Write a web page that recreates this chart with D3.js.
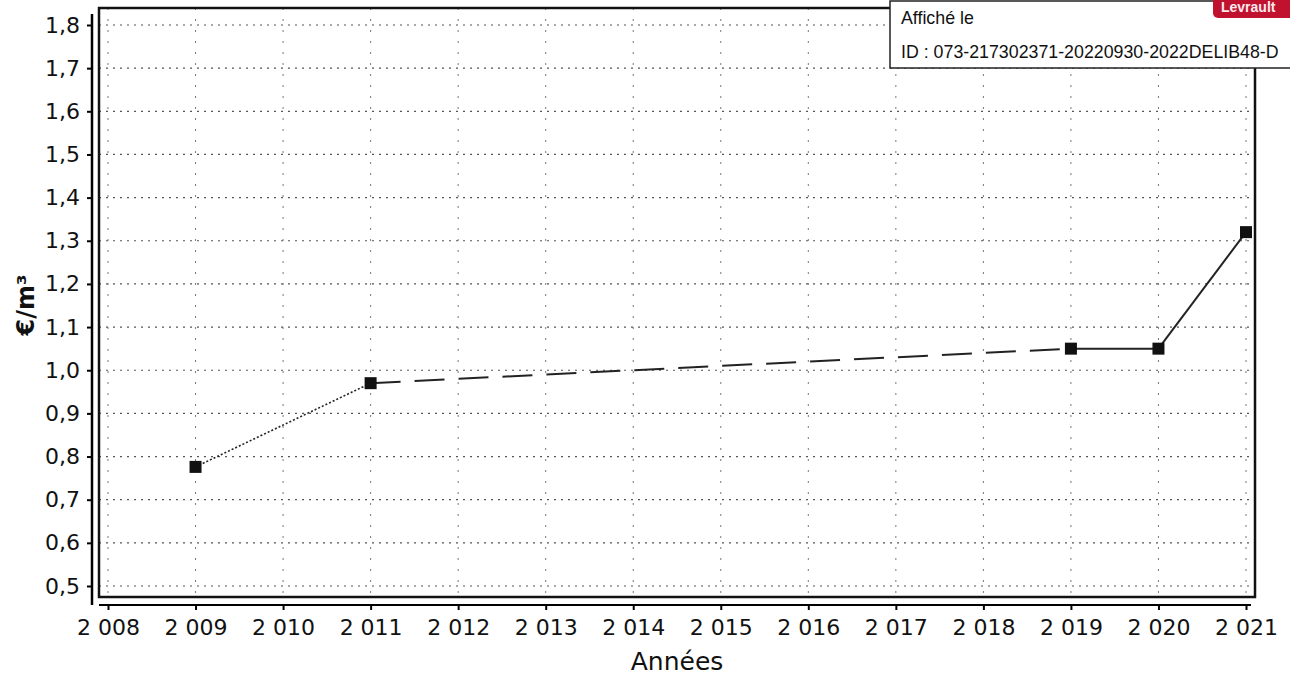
<!DOCTYPE html>
<html>
<head>
<meta charset="utf-8">
<script src="https://cdn.jsdelivr.net/npm/d3@7"></script>
<style>
  body { margin: 0; background: #ffffff; }
  svg { display: block; }
</style>
</head>
<body>
<svg id="chart"></svg>
<script>
// Data
const years = [2009, 2011, 2019, 2020, 2021];
const prices = [0.776, 0.97, 1.05, 1.05, 1.32];
// style of the segment that starts at each point
const segmentStyles = ["dotted", "dashed", "solid", "solid"];

const xTicks = d3.range(2008, 2022);
const yTicks = [0.5, 0.6, 0.7, 0.8, 0.9, 1.0, 1.1, 1.2, 1.3, 1.4, 1.5, 1.6, 1.7, 1.8];

const stampLines = ["Affiché le", "ID : 073-217302371-20220930-2022DELIB48-D"];
const stampBadge = "Levrault";

// Dimensions
const width = 1290;
const height = 677;
const font = "'DejaVu Sans', sans-serif";

const svg = d3.select("#chart")
    .attr("width", width)
    .attr("height", height)
    .style("font-family", font);

// Scales
const x = d3.scaleLinear().domain([2008, 2021]).range([108, 1246]);
const y = d3.scaleLinear().domain([0.5, 1.8]).range([586, 25]);

const frame = { left: 99, right: 1255, top: 8, bottom: 597 };

// Grid - dotted grey
const grid = svg.append("g").attr("class", "grid");
grid.selectAll(".hgrid")
    .data(yTicks)
    .join("line")
    .attr("x1", frame.left)
    .attr("x2", frame.right)
    .attr("y1", d => y(d))
    .attr("y2", d => y(d))
    .attr("stroke", "#555")
    .attr("stroke-width", 1.2)
    .attr("stroke-dasharray", "2,5");

grid.selectAll(".vgrid")
    .data(xTicks)
    .join("line")
    .attr("x1", d => x(d))
    .attr("x2", d => x(d))
    .attr("y1", frame.top)
    .attr("y2", frame.bottom)
    .attr("stroke", "#777")
    .attr("stroke-width", 1)
    .attr("stroke-dasharray", "2,9");

// Plot frame
svg.append("rect")
    .attr("x", frame.left)
    .attr("y", frame.top)
    .attr("width", frame.right - frame.left)
    .attr("height", frame.bottom - frame.top)
    .attr("fill", "none")
    .attr("stroke", "#111")
    .attr("stroke-width", 2.5);

// Y axis
const yAxis = svg.append("g")
    .attr("transform", "translate(92,0)")
    .call(d3.axisLeft(y)
        .tickValues(yTicks)
        .tickSize(5)
        .tickPadding(7)
        .tickFormat(d => d3.format(".1f")(d).replace(".", ",")));
yAxis.select(".domain").attr("d", `M0,${frame.top + 6}V${frame.bottom + 8}`).attr("stroke-width", 2.5);
yAxis.selectAll(".tick line").attr("stroke-width", 2);
yAxis.selectAll("text")
    .style("font-family", font)
    .style("font-size", "22px")
    .attr("fill", "#111");

// X axis
const xAxis = svg.append("g")
    .attr("transform", "translate(0,605)")
    .call(d3.axisBottom(x)
        .tickValues(xTicks)
        .tickSize(5)
        .tickPadding(9)
        .tickFormat(d => String(d).replace(/^(\d)(\d{3})$/, "$1 $2")));
xAxis.select(".domain").attr("d", `M${frame.left},0H${frame.right - 4}`).attr("stroke-width", 2);
xAxis.selectAll(".tick line").attr("stroke-width", 2);
xAxis.selectAll("text")
    .style("font-family", font)
    .style("font-size", "22px")
    .attr("fill", "#111");

// Axis titles
svg.append("text")
    .attr("transform", "translate(34,305) rotate(-90)")
    .attr("text-anchor", "middle")
    .style("font-size", "24px")
    .style("font-weight", "bold")
    .attr("fill", "#111")
    .text("€/m³");

svg.append("text")
    .attr("x", 677)
    .attr("y", 670)
    .attr("text-anchor", "middle")
    .style("font-size", "25px")
    .attr("fill", "#111")
    .text("Années");

// Series segments
const dashes = { dotted: "2,2", dashed: "30,14", solid: null };
const widths = { dotted: 1.6, dashed: 2, solid: 2 };
const segments = segmentStyles.map((s, i) => ({
    x1: years[i], y1: prices[i], x2: years[i + 1], y2: prices[i + 1], style: s
}));

svg.append("g").selectAll("line")
    .data(segments)
    .join("line")
    .attr("x1", d => x(d.x1))
    .attr("y1", d => y(d.y1))
    .attr("x2", d => x(d.x2))
    .attr("y2", d => y(d.y2))
    .attr("stroke", "#222")
    .attr("stroke-width", d => widths[d.style])
    .attr("stroke-dasharray", d => dashes[d.style]);

// Square markers
svg.append("g").selectAll("rect")
    .data(years.map((yr, i) => ({ yr, v: prices[i] })))
    .join("rect")
    .attr("x", d => x(d.yr) - 6)
    .attr("y", d => y(d.v) - 6)
    .attr("width", 12)
    .attr("height", 12)
    .attr("fill", "#111");

// Stamp overlay (top right)
const stamp = svg.append("g");
stamp.append("rect")
    .attr("x", 890)
    .attr("y", 1)
    .attr("width", 420)
    .attr("height", 67)
    .attr("fill", "#fff")
    .attr("stroke", "#222")
    .attr("stroke-width", 1.5);

stamp.selectAll("text.stamp-line")
    .data(stampLines)
    .join("text")
    .attr("class", "stamp-line")
    .attr("x", 901)
    .attr("y", (d, i) => 24 + i * 34)
    .style("font-family", "'Liberation Sans', Arial, sans-serif")
    .style("font-size", "17.8px")
    .attr("fill", "#111")
    .text(d => d);

stamp.append("rect")
    .attr("x", 1213)
    .attr("y", -6)
    .attr("width", 82)
    .attr("height", 24)
    .attr("rx", 5)
    .attr("fill", "#c0112e");

stamp.append("text")
    .attr("x", 1221)
    .attr("y", 12)
    .style("font-family", "'Liberation Sans', Arial, sans-serif")
    .style("font-size", "14px")
    .style("font-weight", "bold")
    .attr("fill", "#fbe9ec")
    .text(stampBadge);
</script>
</body>
</html>
